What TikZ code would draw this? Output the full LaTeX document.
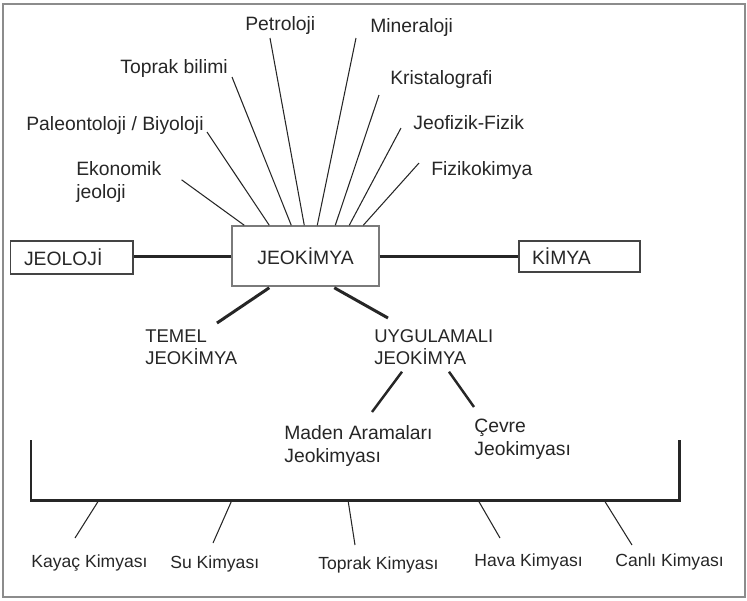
\documentclass[tikz,border=0pt]{standalone}
\usepackage{fontspec}
\setmainfont{Liberation Sans}
\usetikzlibrary{calc}
\definecolor{ink}{HTML}{262626}
\definecolor{boxgray}{HTML}{7A7A7A}
\definecolor{darkbox}{HTML}{444444}
\definecolor{framegray}{HTML}{8C8C8C}
\tikzset{lab/.style={inner sep=0pt, text=ink, font=\fontsize{11}{13}\selectfont}}
\tikzset{capslab/.style={lab, font=\fontsize{10.5}{12.5}\selectfont}}
\tikzset{minilab/.style={lab, font=\fontsize{10}{12}\selectfont}}
\tikzset{spoke/.style={draw=ink, line width=0.6pt}}
\tikzset{bar/.style={draw=ink, line width=1.7pt}}

\begin{document}
\begin{tikzpicture}[x=0.02cm, y=-0.02cm]

  \useasboundingbox (0,0) rectangle (747,600);
  \draw[framegray, line width=1.1pt] (3,4) rectangle (745,597);

  % centre and side boxes
  \node[draw=boxgray, line width=0.85pt, minimum width=2.94cm, minimum height=1.2cm, inner sep=0pt, text=ink, font=\fontsize{11}{13}\selectfont] (jeo) at (305.5,256) {JEOKİMYA};
  \node[draw=darkbox, line width=0.85pt, minimum width=2.45cm, minimum height=0.66cm, inner xsep=0.27cm, inner ysep=0pt, text width=1.91cm, align=left, text=ink, font=\fontsize{11}{13}\selectfont] (jeoloji) at (71.75,257.5) {JEOLOJİ};
  \node[draw=darkbox, line width=0.85pt, minimum width=2.42cm, minimum height=0.62cm, inner xsep=0.26cm, inner ysep=0pt, text width=1.9cm, align=left, text=ink, font=\fontsize{11}{13}\selectfont] (kimya) at (579.5,256.5) {KİMYA};

  \draw[bar] (jeo.west) -- (jeo.west -| jeoloji.east);
  \draw[bar] (jeo.east) -- (jeo.east -| kimya.west);

  % top fields
  \node[lab, anchor=base west] (petro) at (245,30) {Petroloji};
  \node[lab, anchor=base west] (miner) at (370,32) {Mineraloji};
  \node[lab, anchor=base west] (toprakb) at (120,73) {Toprak bilimi};
  \node[lab, anchor=base west] (kristal) at (390,84) {Kristalografi};
  \node[lab, anchor=base west] (paleo) at (26,130) {Paleontoloji / Biyoloji};
  \node[lab, anchor=base west] (jeofiz) at (413,129) {Jeofizik-Fizik};
  \node[lab, anchor=north west, align=left] (ekon) at (76,161) {Ekonomik\\jeoloji};
  \node[lab, anchor=base west] (fiziko) at (431,175) {Fizikokimya};

  \foreach \n/\dx/\dy/\e in {petro/25/8/73, miner/-14/6/86, toprakb/112/4/60, kristal/-11/11/104, paleo/181/2/38, jeofiz/-12/-1/118, fiziko/-12/-12/132}
    \draw[spoke] ($(\n.base west)+(\dx,\dy)$) -- ($(jeo.north west)+(\e,0)$);
  \draw[spoke] ($(ekon.east)+(20,-2)$) -- ($(jeo.north west)+(13,0)$);

  % branches
  \node[capslab, anchor=north west, align=left] (temel) at (145,329) {TEMEL\\JEOKİMYA};
  \node[capslab, anchor=north west, align=left] (uyg) at (374,329) {UYGULAMALI\\JEOKİMYA};
  \draw[bar] ($(jeo.south west)+(38,1)$) -- ($(temel.north west)+(72,-6)$);
  \draw[bar] ($(jeo.south west)+(103,1)$) -- ($(uyg.north west)+(14,-11)$);

  \node[lab, anchor=north west, align=left] (maden) at (284,425) {Maden Aramaları\\Jeokimyası};
  \node[lab, anchor=north west, align=left] (cevre) at (474,419) {Çevre\\Jeokimyası};
  \draw[draw=ink, line width=1.4pt] ($(uyg.south west)+(28,7)$) -- ($(maden.north west)+(88,-13)$);
  \draw[draw=ink, line width=1.4pt] ($(uyg.south west)+(75,7)$) -- ($(cevre.north west)+(0,-12)$);

  % bracket
  \coordinate (brtl) at (31,440);
  \coordinate (brbl) at (31,500);
  \coordinate (brbr) at (679,500);
  \coordinate (brtr) at (679,440);
  \draw[bar] (brtl) -- (brbl) -- (brbr) -- (brtr);

  \node[minilab, anchor=base west] (kayac) at (31,567) {Kayaç Kimyası};
  \node[minilab, anchor=base west] (su) at (170,568) {Su Kimyası};
  \node[minilab, anchor=base west] (toprakk) at (318,569) {Toprak Kimyası};
  \node[minilab, anchor=base west] (hava) at (474,566) {Hava Kimyası};
  \node[minilab, anchor=base west] (canli) at (615,566) {Canlı Kimyası};

  \foreach \n/\b/\dx/\dy in {kayac/68/44/-29, su/201/43/-25, toprakk/317/37/-24, hava/447/26/-28, canli/573/17/-21}
    \draw[spoke] ($(brbl)+(\b,0)$) -- ($(\n.base west)+(\dx,\dy)$);

\end{tikzpicture}
\end{document}
